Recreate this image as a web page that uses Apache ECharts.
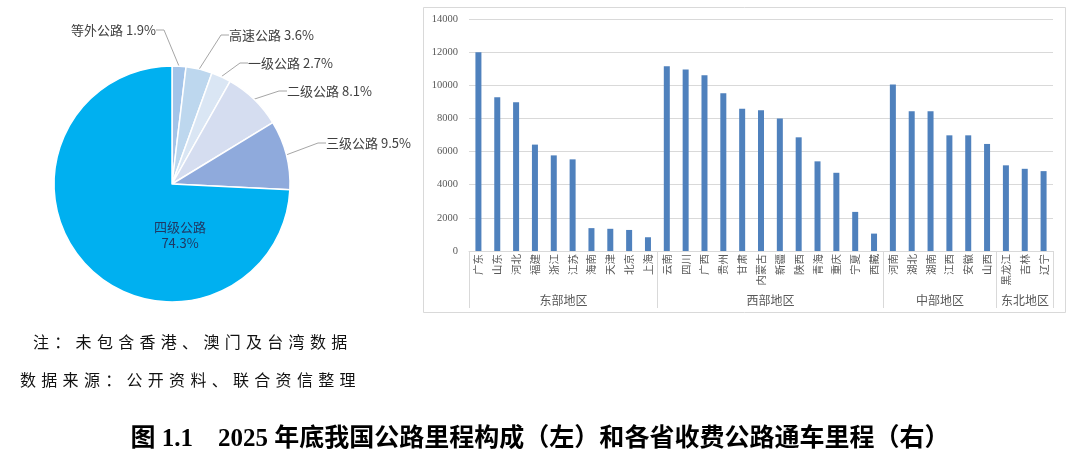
<!DOCTYPE html>
<html><head><meta charset="utf-8">
<script src="https://cdn.jsdelivr.net/npm/echarts@6/dist/echarts.min.js"></script>
<style>
html,body{margin:0;padding:0;background:#fff;}
#wrap{position:relative;width:1080px;height:456px;}
#chart{position:absolute;left:0;top:0;width:1080px;height:456px;}
.note{position:absolute;font-family:"Noto Sans CJK SC",sans-serif;font-size:16px;letter-spacing:5.3px;color:#111;white-space:nowrap;line-height:20px;}
</style>
</head><body>
<div id="wrap">
<div id="chart"></div>
<div class="note" style="left:33px;top:331px;">注：未包含香港、澳门及台湾数据</div>
<div class="note" style="left:20px;top:369px;">数据来源：公开资料、联合资信整理</div>
</div>
<script>
// ---- data ----
const roadClasses = ['等外公路', '高速公路', '一级公路', '二级公路', '三级公路', '四级公路'];
const roadShares = [1.9, 3.6, 2.7, 8.1, 9.5, 74.3];

const provinces = ['广东','山东','河北','福建','浙江','江苏','海南','天津','北京','上海',
  '云南','四川','广西','贵州','甘肃','内蒙古','新疆','陕西','青海','重庆','宁夏','西藏',
  '河南','湖北','湖南','江西','安徽','山西',
  '黑龙江','吉林','辽宁'];
const tollMileage = [12000, 9280, 8980, 6420, 5770, 5530, 1380, 1340, 1270, 830,
  11150, 10950, 10610, 9520, 8590, 8490, 7990, 6860, 5410, 4720, 2360, 1050,
  10040, 8430, 8430, 6980, 6980, 6460,
  5170, 4960, 4820];
const regionNames = ['东部地区', '西部地区', '中部地区', '东北地区'];
const regionStart = [0, 10, 22, 28];
const regionEnd = [10, 22, 28, 31];
const yTicks = { min: 0, max: 14000, interval: 2000 };

// ---- styles ----
const pieColors = ['#a3c4e9', '#bdd7ee', '#dae6f4', '#d5ddf0', '#8faadc', '#00b0f0'];
const pieLabelPos = [
  { x: 156, y: 30, align: 'right' },
  { x: 229, y: 35, align: 'left' },
  { x: 248, y: 63, align: 'left' },
  { x: 287, y: 91, align: 'left' },
  { x: 326, y: 143, align: 'left' },
  { dx: 8, dy: 51 }
];

const chart = echarts.init(document.getElementById('chart'), null, { renderer: 'canvas' });

const pieData = roadClasses.map((n, i) => {
  const item = { name: n, value: roadShares[i], itemStyle: { color: pieColors[i] } };
  if (i === roadClasses.length - 1) {
    item.label = {
      position: 'center',
      formatter: '{b}\n{c}%',
      color: '#1f3864',
      fontSize: 13,
      lineHeight: 16
    };
    item.labelLine = { show: false };
  }
  return item;
});

const regionData = regionNames.map((n, i) => [regionStart[i], 0, regionEnd[i]]);

const option = {
  backgroundColor: '#fff',
  animation: false,
  title: {
    text: '图 1.1\u30002025 年底我国公路里程构成（左）和各省收费公路通车里程（右）',
    left: 'center',
    top: 422,
    textStyle: {
      fontFamily: '"Liberation Serif", "Noto Sans CJK SC", serif',
      fontWeight: 'bold',
      fontSize: 25,
      color: '#000'
    }
  },
  graphic: [{
    type: 'rect',
    shape: { x: 423.5, y: 7.5, width: 642, height: 305 },
    style: { fill: 'none', stroke: '#d9d9d9', lineWidth: 1 },
    silent: true
  }],
  grid: { left: 469, right: 27, top: 19, bottom: 205, containLabel: false },
  xAxis: {
    type: 'category',
    data: provinces,
    axisLine: { show: true, lineStyle: { color: '#d9d9d9' } },
    axisTick: { show: false },
    axisLabel: {
      interval: 0,
      rotate: 90,
      margin: 3,
      fontSize: 10.5,
      color: '#595959',
      fontFamily: '"Noto Sans CJK SC", sans-serif'
    }
  },
  yAxis: {
    type: 'value',
    min: yTicks.min,
    max: yTicks.max,
    interval: yTicks.interval,
    axisLine: { show: false },
    axisTick: { show: false },
    splitLine: { lineStyle: { color: '#d9d9d9', width: 1 } },
    axisLabel: {
      margin: 11,
      fontSize: 10.5,
      color: '#595959',
      fontFamily: '"Liberation Serif", serif',
      formatter: function (v) { return String(v); }
    }
  },
  series: [
    {
      type: 'pie',
      center: [172, 184],
      radius: 118,
      startAngle: 90,
      clockwise: true,
      avoidLabelOverlap: false,
      itemStyle: { borderColor: '#fff', borderWidth: 1.5 },
      label: {
        formatter: '{b} {c}%',
        fontSize: 13,
        color: '#404040',
        fontFamily: '"Noto Sans CJK SC", sans-serif'
      },
      labelLine: { length: 14, length2: 8, lineStyle: { color: '#a6a6a6', width: 1 } },
      labelLayout: function (p) {
        const pos = pieLabelPos[p.dataIndex];
        if (!pos) return {};
        if (pos.dx != null) return { dx: pos.dx, dy: pos.dy };
        return { x: pos.x, y: pos.y, align: pos.align, verticalAlign: 'middle' };
      },
      data: pieData
    },
    {
      type: 'bar',
      data: tollMileage,
      barWidth: 6,
      itemStyle: { color: '#4f81bd' },
      z: 3
    },
    {
      type: 'custom',
      clip: false,
      silent: true,
      encode: { x: 0, y: 1 },
      data: regionData,
      renderItem: function (params, api) {
        const s = api.value(0), e = api.value(2);
        const band = api.size([1, 0])[0];
        const p0 = api.coord([s, 0]);
        const p1 = api.coord([e - 1, 0]);
        const x0 = Math.round(p0[0] - band / 2) + 0.5;
        const x1 = Math.round(p1[0] + band / 2) + 0.5;
        const y = p0[1];
        const lineStyle = { stroke: '#d9d9d9', lineWidth: 1 };
        return {
          type: 'group',
          children: [
            { type: 'line', shape: { x1: x0, y1: y, x2: x0, y2: y + 57 }, style: lineStyle },
            { type: 'line', shape: { x1: x1, y1: y, x2: x1, y2: y + 57 }, style: lineStyle },
            {
              type: 'text',
              style: {
                text: regionNames[params.dataIndex],
                x: (x0 + x1) / 2, y: y + 49,
                align: 'center', verticalAlign: 'middle',
                fontSize: 12, fill: '#595959',
                fontFamily: '"Noto Sans CJK SC", sans-serif'
              }
            }
          ]
        };
      }
    }
  ]
};
chart.setOption(option);
</script>
</body></html>
